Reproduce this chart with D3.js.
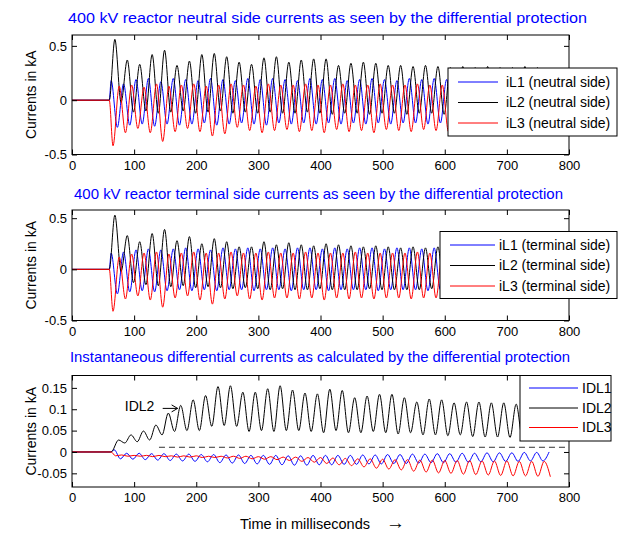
<!DOCTYPE html>
<html>
<head>
<meta charset="utf-8">
<script src="https://cdn.jsdelivr.net/npm/d3@7"></script>
<style>
  body { margin: 0; background: #fff; }
  svg { font-family: "Liberation Sans", Arial, sans-serif; }
</style>
</head>
<body>
<div id="chart"></div>
<script>
// ----- data -----
const timeTicks = [0, 100, 200, 300, 400, 500, 600, 700, 800]
const phaseTicks = [-0.5, 0, 0.5]
const diffTicks = [-0.05, 0, 0.05, 0.1, 0.15]

const titles = [
  '400 kV reactor neutral side currents as seen by the differential protection',
  '400 kV reactor terminal side currents as seen by the differential protection',
  'Instantaneous differential currents as calculated by the differential protection'
]
const neutralLabels = ['iL1 (neutral side)', 'iL2 (neutral side)', 'iL3 (neutral side)']
const terminalLabels = ['iL1 (terminal side)', 'iL2 (terminal side)', 'iL3 (terminal side)']
const diffLabels = ['IDL1', 'IDL2', 'IDL3']

const halfPeriod = 10 // ms between a peak and the next trough (50 Hz)

// neutral side, kA. [onset, time of first extremum], first-extremum list, second-extremum list
const neutralL1Start = [60, 63]
const neutralL1Peaks = [0.18, 0.15, 0.19, 0.20, 0.17, 0.20, 0.19, 0.18, 0.20, 0.19, 0.18, 0.20, 0.19, 0.20, 0.19, 0.18, 0.20, 0.19, 0.20, 0.18, 0.19, 0.20, 0.19, 0.18, 0.20, 0.19, 0.20, 0.19, 0.18, 0.19, 0.20, 0.19, 0.18, 0.19, 0.19]
const neutralL1Troughs = [-0.25, -0.23, -0.22, -0.24, -0.22, -0.23, -0.22, -0.21, -0.23, -0.22, -0.21, -0.22, -0.23, -0.21, -0.22, -0.21, -0.22, -0.21, -0.22, -0.21, -0.22, -0.21, -0.22, -0.21, -0.21, -0.22, -0.21, -0.21, -0.22, -0.21, -0.21, -0.22, -0.21, -0.21, -0.21]
const neutralL2Start = [60, 69]
const neutralL2Peaks = [0.56, 0.37, 0.33, 0.42, 0.46, 0.32, 0.36, 0.42, 0.43, 0.40, 0.35, 0.33, 0.39, 0.40, 0.35, 0.37, 0.38, 0.38, 0.32, 0.34, 0.35, 0.34, 0.32, 0.32, 0.31, 0.32, 0.31, 0.30, 0.31, 0.30, 0.31, 0.30, 0.30, 0.31, 0.30]
const neutralL2Troughs = [-0.02, -0.11, -0.10, -0.12, -0.11, -0.10, -0.12, -0.11, -0.10, -0.12, -0.11, -0.12, -0.11, -0.12, -0.12, -0.11, -0.12, -0.13, -0.12, -0.12, -0.13, -0.12, -0.12, -0.13, -0.12, -0.12, -0.13, -0.12, -0.12, -0.13, -0.12, -0.12, -0.12, -0.13, -0.12]
const neutralL3Start = [60, 66]
const neutralL3Troughs = [-0.42, -0.30, -0.26, -0.30, -0.38, -0.29, -0.26, -0.29, -0.33, -0.31, -0.25, -0.28, -0.30, -0.28, -0.27, -0.29, -0.28, -0.30, -0.27, -0.29, -0.28, -0.30, -0.27, -0.28, -0.29, -0.27, -0.28, -0.29, -0.28, -0.27, -0.28, -0.28, -0.27, -0.28, -0.28]
const neutralL3Peaks = [0.13, 0.14, 0.12, 0.15, 0.13, 0.14, 0.15, 0.13, 0.14, 0.15, 0.14, 0.13, 0.15, 0.14, 0.14, 0.15, 0.14, 0.14, 0.15, 0.14, 0.14, 0.15, 0.14, 0.14, 0.15, 0.14, 0.14, 0.14, 0.15, 0.14, 0.14, 0.14, 0.14, 0.14, 0.14]

// terminal side, kA
const terminalL1Start = [60, 63]
const terminalL1Peaks = [0.16, 0.17, 0.19, 0.20, 0.19, 0.20, 0.21, 0.20, 0.19, 0.21, 0.20, 0.21, 0.20, 0.21, 0.20, 0.21, 0.21, 0.20, 0.21, 0.20, 0.21, 0.21, 0.20, 0.21, 0.21, 0.20, 0.21, 0.21, 0.20, 0.21, 0.21, 0.20, 0.21, 0.21, 0.21]
const terminalL1Troughs = [-0.24, -0.22, -0.21, -0.22, -0.21, -0.20, -0.21, -0.20, -0.21, -0.20, -0.20, -0.21, -0.20, -0.20, -0.21, -0.20, -0.20, -0.21, -0.20, -0.20, -0.20, -0.21, -0.20, -0.20, -0.20, -0.21, -0.20, -0.20, -0.20, -0.20, -0.21, -0.20, -0.20, -0.20, -0.20]
const terminalL2Start = [60, 69]
const terminalL2Peaks = [0.53, 0.33, 0.27, 0.35, 0.39, 0.28, 0.32, 0.25, 0.30, 0.27, 0.22, 0.22, 0.27, 0.24, 0.26, 0.24, 0.23, 0.25, 0.24, 0.23, 0.22, 0.23, 0.22, 0.21, 0.22, 0.21, 0.22, 0.21, 0.21, 0.22, 0.21, 0.21, 0.21, 0.21, 0.21]
const terminalL2Troughs = [-0.02, -0.13, -0.15, -0.16, -0.17, -0.16, -0.18, -0.17, -0.18, -0.19, -0.18, -0.19, -0.20, -0.19, -0.20, -0.20, -0.19, -0.20, -0.20, -0.20, -0.19, -0.20, -0.20, -0.20, -0.20, -0.19, -0.20, -0.20, -0.20, -0.20, -0.20, -0.20, -0.20, -0.20, -0.20]
const terminalL3Start = [60, 66]
const terminalL3Troughs = [-0.41, -0.29, -0.26, -0.30, -0.37, -0.28, -0.26, -0.30, -0.34, -0.29, -0.26, -0.29, -0.30, -0.28, -0.28, -0.29, -0.28, -0.30, -0.28, -0.29, -0.28, -0.29, -0.28, -0.28, -0.29, -0.28, -0.28, -0.28, -0.28, -0.28, -0.28, -0.28, -0.28, -0.28, -0.28]
const terminalL3Peaks = [0.12, 0.15, 0.16, 0.17, 0.15, 0.16, 0.17, 0.16, 0.16, 0.17, 0.16, 0.16, 0.17, 0.16, 0.16, 0.17, 0.16, 0.16, 0.16, 0.17, 0.16, 0.16, 0.16, 0.16, 0.17, 0.16, 0.16, 0.16, 0.16, 0.16, 0.16, 0.16, 0.16, 0.16, 0.16]

// differential currents, kA
const diffL1Start = [62, 68]
const diffL1Peaks = [0.005, -0.003, -0.003, -0.004, -0.004, -0.005, -0.005, -0.006, -0.006, -0.007, -0.007, -0.008, -0.008, -0.008, -0.009, -0.009, -0.008, -0.008, -0.008, -0.008, -0.007, -0.007, -0.006, -0.006, -0.005, -0.005, -0.004, -0.004, -0.003, -0.003, -0.002, -0.002, -0.002, -0.001, -0.001, 0.000]
const diffL1Troughs = [-0.016, -0.017, -0.018, -0.019, -0.020, -0.021, -0.022, -0.023, -0.025, -0.026, -0.027, -0.028, -0.029, -0.030, -0.031, -0.031, -0.030, -0.030, -0.029, -0.029, -0.028, -0.028, -0.027, -0.027, -0.026, -0.025, -0.025, -0.024, -0.024, -0.023, -0.023, -0.022, -0.022, -0.021, -0.021]
const diffL2Start = [63, 75]
const diffL2Peaks = [0.028, 0.040, 0.049, 0.063, 0.091, 0.109, 0.122, 0.132, 0.153, 0.155, 0.140, 0.140, 0.148, 0.155, 0.145, 0.138, 0.136, 0.147, 0.144, 0.127, 0.131, 0.135, 0.135, 0.127, 0.117, 0.124, 0.122, 0.115, 0.117, 0.117, 0.115, 0.115, 0.112, 0.110, 0.110]
const diffL2Troughs = [0.021, 0.024, 0.028, 0.040, 0.048, 0.050, 0.050, 0.060, 0.062, 0.060, 0.048, 0.050, 0.048, 0.050, 0.050, 0.048, 0.045, 0.050, 0.045, 0.045, 0.048, 0.045, 0.042, 0.045, 0.040, 0.040, 0.038, 0.040, 0.036, 0.035, 0.035, 0.034, 0.033, 0.033, 0.033]
const diffL3Start = [63, 70]
const diffL3Troughs = [-0.009, -0.010, -0.010, -0.011, -0.011, -0.012, -0.012, -0.013, -0.013, -0.014, -0.015, -0.016, -0.017, -0.018, -0.020, -0.022, -0.024, -0.027, -0.030, -0.032, -0.035, -0.038, -0.040, -0.042, -0.045, -0.047, -0.049, -0.050, -0.052, -0.053, -0.054, -0.055, -0.056, -0.056, -0.057, -0.058]
const diffL3Peaks = [-0.007, -0.008, -0.008, -0.008, -0.009, -0.009, -0.009, -0.010, -0.010, -0.010, -0.010, -0.011, -0.011, -0.012, -0.012, -0.013, -0.013, -0.014, -0.015, -0.016, -0.016, -0.017, -0.018, -0.018, -0.019, -0.019, -0.020, -0.020, -0.020, -0.021, -0.021, -0.021, -0.022, -0.022, -0.022]

// dashed pickup level in the differential plot
const thresholdTimes = [140, 800]
const thresholdValue = 0.011

// ----- layout -----
const width = 621
const height = 533
const left = 72
const right = 569
const seriesColors = ['#0000ff', '#000000', '#ff0000']

const xScale = d3.scaleLinear().domain([0, 800]).range([left, right])

// builds the polyline through the read extrema: flat zero, onset, then alternating extrema
function wave ([onset, firstT], firstVals, secondVals) {
  const pts = [[0, 0], [onset, 0]]
  firstVals.forEach((v, i) => {
    pts.push([firstT + 2 * halfPeriod * i, v])
    if (secondVals[i] !== undefined) pts.push([firstT + halfPeriod * (2 * i + 1), secondVals[i]])
  })
  return pts
}

const panels = [
  {
    title: titles[0], titleSpan: [68, 587], titleY: 18, top: 35, bottom: 154.5, yDomain: [-0.5, 0.6], yTicks: phaseTicks,
    series: [
      wave(neutralL1Start, neutralL1Peaks, neutralL1Troughs),
      wave(neutralL2Start, neutralL2Peaks, neutralL2Troughs),
      wave(neutralL3Start, neutralL3Troughs, neutralL3Peaks)
    ],
    labels: neutralLabels,
    legend: { x: 448, y: 68, w: 169, h: 68, rows: [82, 102.5, 123], line: [458, 498], text: 506 }
  },
  {
    title: titles[1], titleSpan: [74, 563], titleY: 194, top: 210, bottom: 320.5, yDomain: [-0.5, 0.58], yTicks: phaseTicks,
    series: [
      wave(terminalL1Start, terminalL1Peaks, terminalL1Troughs),
      wave(terminalL2Start, terminalL2Peaks, terminalL2Troughs),
      wave(terminalL3Start, terminalL3Troughs, terminalL3Peaks)
    ],
    labels: terminalLabels,
    legend: { x: 440, y: 231.5, w: 177, h: 67, rows: [245, 265.5, 286], line: [450, 495], text: 499 }
  },
  {
    title: titles[2], titleSpan: [70, 570], titleY: 357, top: 375.5, bottom: 487, yDomain: [-0.082, 0.179], yTicks: diffTicks,
    series: [
      wave(diffL1Start, diffL1Peaks, diffL1Troughs),
      wave(diffL2Start, diffL2Peaks, diffL2Troughs),
      wave(diffL3Start, diffL3Troughs, diffL3Peaks)
    ],
    labels: diffLabels,
    legend: { x: 520, y: 375.5, w: 91, h: 65.5, rows: [388, 408, 427.5], line: [529, 578], text: 582 }
  }
]

const svg = d3.select('#chart').append('svg').attr('width', width).attr('height', height)

panels.forEach((p, pi) => {
  const yScale = d3.scaleLinear().domain(p.yDomain).range([p.bottom, p.top])
  const g = svg.append('g')
  const clipId = `clip${pi}`
  svg.append('clipPath').attr('id', clipId).append('rect')
    .attr('x', left).attr('y', p.top).attr('width', right - left).attr('height', p.bottom - p.top)

  // title
  svg.append('text').attr('x', p.titleSpan[0]).attr('y', p.titleY).attr('dy', '0.35em')
    .attr('textLength', p.titleSpan[1] - p.titleSpan[0]).attr('lengthAdjust', 'spacingAndGlyphs')
    .attr('fill', '#0000ff').attr('font-size', 15).text(p.title)

  // y label
  svg.append('text').attr('transform', `translate(31 ${(p.top + p.bottom) / 2}) rotate(-90)`)
    .attr('text-anchor', 'middle').attr('dy', '0.35em').attr('font-size', 14).text('Currents in kA')

  // curves
  const line = d3.line().x(d => xScale(d[0])).y(d => yScale(d[1])).curve(d3.curveMonotoneX)
  const curves = g.append('g').attr('clip-path', `url(#${clipId})`)
  p.series.forEach((s, i) => {
    curves.append('path').attr('d', line(s)).attr('fill', 'none')
      .attr('stroke', seriesColors[i]).attr('stroke-width', 1)
  })

  if (pi === 2) {
    // dashed level
    curves.append('line')
      .attr('x1', xScale(thresholdTimes[0])).attr('x2', xScale(thresholdTimes[1]))
      .attr('y1', yScale(thresholdValue)).attr('y2', yScale(thresholdValue))
      .attr('stroke', '#333').attr('stroke-dasharray', '6,4')
    // IDL2 annotation
    svg.append('text').attr('x', xScale(85)).attr('y', yScale(0.1065)).attr('dy', '0.35em')
      .attr('font-size', 14).text('IDL2')
    const ax0 = xScale(146)
    const ax1 = xScale(170)
    const ay = yScale(0.102)
    svg.append('path').attr('d', `M${ax0},${ay}H${ax1}M${ax1 - 6},${ay - 3.5}L${ax1},${ay}L${ax1 - 6},${ay + 3.5}`)
      .attr('fill', 'none').attr('stroke', '#000').attr('stroke-width', 1)
  }

  // axes with inward ticks
  const axB = d3.axisBottom(xScale).tickValues(timeTicks).tickSizeInner(-5).tickSizeOuter(0).tickPadding(6)
  const axT = d3.axisTop(xScale).tickValues(timeTicks).tickSizeInner(-5).tickSizeOuter(0).tickFormat('')
  const axL = d3.axisLeft(yScale).tickValues(p.yTicks).tickSizeInner(-5).tickSizeOuter(0).tickPadding(5).tickFormat(d => String(d))
  const axR = d3.axisRight(yScale).tickValues(p.yTicks).tickSizeInner(-5).tickSizeOuter(0).tickFormat('')
  const axes = [
    g.append('g').attr('transform', `translate(0 ${p.bottom})`).call(axB),
    g.append('g').attr('transform', `translate(0 ${p.top})`).call(axT),
    g.append('g').attr('transform', `translate(${left} 0)`).call(axL),
    g.append('g').attr('transform', `translate(${right} 0)`).call(axR)
  ]
  axes.forEach(a => {
    a.select('.domain').remove()
    a.selectAll('text').attr('font-size', 13).attr('fill', '#000').attr('font-family', '"Liberation Sans", Arial, sans-serif')
    a.selectAll('line').attr('stroke', '#000')
  })
  g.append('rect').attr('x', left).attr('y', p.top).attr('width', right - left).attr('height', p.bottom - p.top)
    .attr('fill', 'none').attr('stroke', '#000').attr('stroke-width', 1)

  // legend
  const L = p.legend
  const lg = svg.append('g')
  lg.append('rect').attr('x', L.x).attr('y', L.y).attr('width', L.w).attr('height', L.h)
    .attr('fill', '#fff').attr('stroke', '#000').attr('stroke-width', 1)
  p.labels.forEach((lab, i) => {
    lg.append('line').attr('x1', L.line[0]).attr('x2', L.line[1]).attr('y1', L.rows[i]).attr('y2', L.rows[i])
      .attr('stroke', seriesColors[i])
    lg.append('text').attr('x', L.text).attr('y', L.rows[i]).attr('dy', '0.35em')
      .attr('font-size', 14).text(lab)
  })
})

// x label
svg.append('text').attr('x', 240).attr('y', 524).attr('dy', '0.35em').attr('font-size', 14.5)
  .text('Time in milliseconds')
svg.append('text').attr('x', 386).attr('y', 522).attr('dy', '0.35em').attr('font-size', 19)
  .text('→')
</script>
</body>
</html>
